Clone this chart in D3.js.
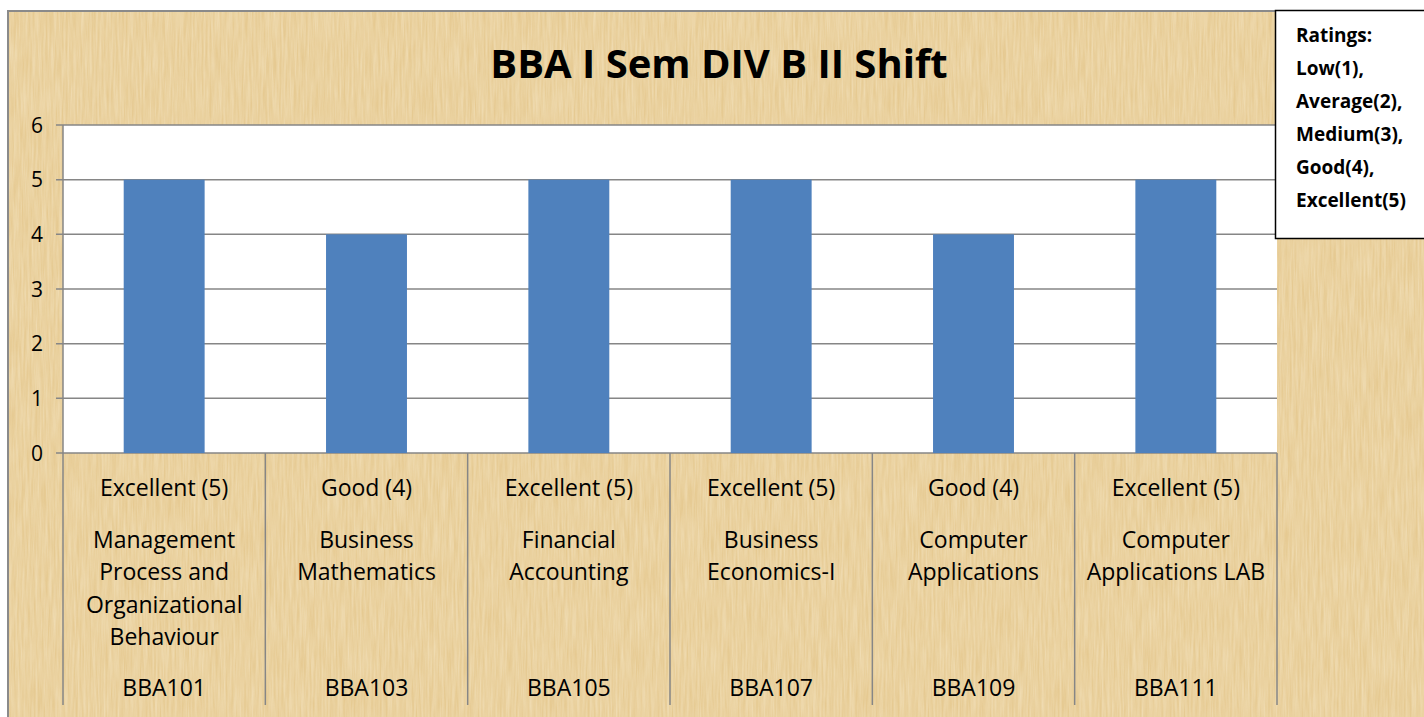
<!DOCTYPE html>
<html>
<head>
  <meta charset="utf-8">
  <title>BBA I Sem DIV B II Shift</title>
  <script src="https://d3js.org/d3.v7.min.js"></script>
  <style>
    body { margin: 0; overflow: hidden; background: #fff; }
    svg { display: block; }
    text { font-family: "Open Sans", sans-serif; fill: #000; }
  </style>
</head>
<body>
  <svg width="1424" height="717"></svg>

  <script>
    // data
    const codes = ["BBA101", "BBA103", "BBA105", "BBA107", "BBA109", "BBA111"];
    const subjects = [
      ["Management", "Process and", "Organizational", "Behaviour"],
      ["Business", "Mathematics"],
      ["Financial", "Accounting"],
      ["Business", "Economics-I"],
      ["Computer", "Applications"],
      ["Computer", "Applications LAB"]
    ];
    const ratingLabels = ["Excellent (5)", "Good (4)", "Excellent (5)", "Excellent (5)", "Good (4)", "Excellent (5)"];
    const values = [5, 4, 5, 5, 4, 5];
    const yTicks = [0, 1, 2, 3, 4, 5, 6];
    const legendLines = ["Ratings:", "Low(1),", "Average(2),", "Medium(3),", "Good(4),", "Excellent(5)"];

    const svg = d3.select("svg");

    // papyrus-like background
    const defs = svg.append("defs");
    const filt = defs.append("filter").attr("id", "paper")
      .attr("x", 0).attr("y", 0).attr("width", "100%").attr("height", "100%");
    filt.append("feTurbulence").attr("type", "fractalNoise")
      .attr("baseFrequency", "0.5 0.025").attr("numOctaves", 3).attr("seed", 7).attr("result", "n");
    filt.append("feColorMatrix").attr("in", "n").attr("type", "matrix")
      .attr("values", "0 0 0 0 0.98  0 0 0 0 0.9  0 0 0 0 0.72  0 0 0 0.8 -0.15");

    svg.append("rect").attr("x", 8).attr("y", 11).attr("width", 1424).attr("height", 717)
      .attr("fill", "#e6ca92").attr("stroke", "#8a8a8a").attr("stroke-width", 2);
    svg.append("rect").attr("x", 9).attr("y", 12).attr("width", 1424).attr("height", 717)
      .attr("filter", "url(#paper)").attr("opacity", 0.75);

    const plot = { left: 63, right: 1277, top: 125, bottom: 453 };

    const x = d3.scaleBand().domain(codes).range([plot.left, plot.right]).paddingInner(0).paddingOuter(0);
    const y = d3.scaleLinear().domain([0, 6]).range([plot.bottom, plot.top]);

    const g = svg.append("g");

    // plot area
    g.append("rect")
      .attr("x", plot.left).attr("y", plot.top)
      .attr("width", plot.right - plot.left).attr("height", plot.bottom - plot.top)
      .attr("fill", "#fff");

    // gridlines
    g.append("g").selectAll("line").data(yTicks).join("line")
      .attr("x1", plot.left - 7).attr("x2", plot.right)
      .attr("y1", d => y(d)).attr("y2", d => y(d))
      .attr("stroke", "#868686").attr("stroke-width", 1.5);

    // y labels
    g.append("g").selectAll("text").data(yTicks).join("text")
      .attr("x", 37).attr("y", d => y(d) + 7.5)
      .attr("text-anchor", "middle").attr("font-size", 21)
      .text(d => d);

    // y axis line
    g.append("line").attr("x1", plot.left).attr("x2", plot.left)
      .attr("y1", plot.top).attr("y2", plot.bottom)
      .attr("stroke", "#868686").attr("stroke-width", 1.5);

    // bars
    const barW = x.bandwidth() * 0.4;
    g.append("g").selectAll("rect").data(values).join("rect")
      .attr("x", (d, i) => x(codes[i]) + (x.bandwidth() - barW) / 2)
      .attr("y", d => y(d))
      .attr("width", barW)
      .attr("height", d => y(0) - y(d))
      .attr("fill", "#4f81bd");

    // category separators below axis
    const seps = codes.map(c => x(c)).concat([plot.right]);
    g.append("g").selectAll("line").data(seps).join("line")
      .attr("x1", d => d).attr("x2", d => d)
      .attr("y1", plot.bottom).attr("y2", 705)
      .attr("stroke", "#868686").attr("stroke-width", 1.5);

    // category labels
    const fs = 23;
    const cat = g.append("g").selectAll("g").data(codes).join("g")
      .attr("transform", d => `translate(${x(d) + x.bandwidth() / 2},0)`);
    cat.append("text").attr("y", 496).attr("text-anchor", "middle").attr("font-size", fs)
      .text((d, i) => ratingLabels[i]);
    cat.each(function (d, i) {
      d3.select(this).selectAll("text.sub").data(subjects[i]).join("text")
        .attr("class", "sub")
        .attr("y", (s, j) => 547.5 + j * 32.5)
        .attr("text-anchor", "middle").attr("font-size", fs)
        .text(s => s);
    });
    cat.append("text").attr("y", 696).attr("text-anchor", "middle").attr("font-size", fs)
      .text(d => d);

    // title
    svg.append("text").attr("x", 719).attr("y", 78).attr("text-anchor", "middle")
      .attr("font-size", 40).attr("font-weight", "bold")
      .text("BBA I Sem DIV B II Shift");

    // ratings box
    svg.append("rect").attr("x", 1275.5).attr("y", 10.5).attr("width", 160).attr("height", 228)
      .attr("fill", "#fff").attr("stroke", "#000").attr("stroke-width", 1.5);
    svg.append("g").selectAll("text").data(legendLines).join("text")
      .attr("x", 1296).attr("y", (d, i) => 42 + i * 33)
      .attr("font-size", 19).attr("font-weight", "bold")
      .text(d => d);
  </script>
</body>
</html>
